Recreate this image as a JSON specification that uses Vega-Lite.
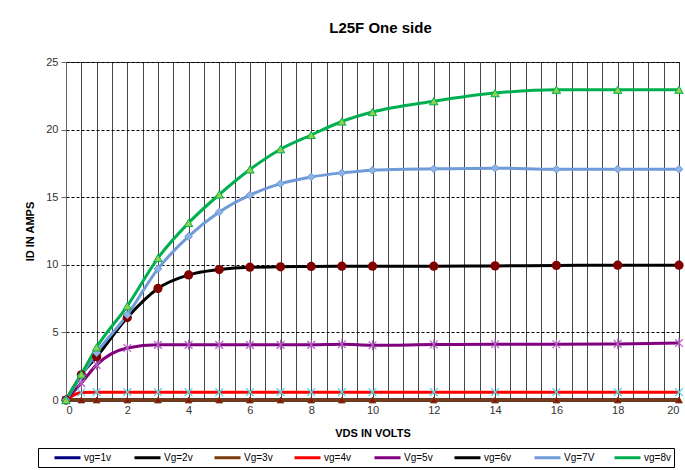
{
  "$schema": "https://vega.github.io/schema/vega-lite/v6.json",
  "width": 613,
  "height": 338,
  "autosize": "none",
  "padding": {"left": 66, "top": 62, "right": 6, "bottom": 70},
  "background": "white",
  "config": {
    "font": "Liberation Sans",
    "view": {"stroke": "#404040", "strokeWidth": 1}
  },
  "title": {"text": "L25F One side", "fontSize": 15, "fontWeight": "bold", "offset": 20, "anchor": "middle", "dx": 8, "color": "#000"},
  "data": {"values": [
    {"series": "vg=1v", "x": 0, "y": 0}, {"series": "vg=1v", "x": 0.5, "y": 0}, {"series": "vg=1v", "x": 1, "y": 0}, {"series": "vg=1v", "x": 2, "y": 0}, {"series": "vg=1v", "x": 3, "y": 0}, {"series": "vg=1v", "x": 4, "y": 0}, {"series": "vg=1v", "x": 5, "y": 0}, {"series": "vg=1v", "x": 6, "y": 0}, {"series": "vg=1v", "x": 7, "y": 0}, {"series": "vg=1v", "x": 8, "y": 0}, {"series": "vg=1v", "x": 9, "y": 0}, {"series": "vg=1v", "x": 10, "y": 0}, {"series": "vg=1v", "x": 12, "y": 0}, {"series": "vg=1v", "x": 14, "y": 0}, {"series": "vg=1v", "x": 16, "y": 0}, {"series": "vg=1v", "x": 18, "y": 0}, {"series": "vg=1v", "x": 20, "y": 0},
    {"series": "Vg=2v", "x": 0, "y": 0}, {"series": "Vg=2v", "x": 0.5, "y": 0}, {"series": "Vg=2v", "x": 1, "y": 0}, {"series": "Vg=2v", "x": 2, "y": 0}, {"series": "Vg=2v", "x": 3, "y": 0}, {"series": "Vg=2v", "x": 4, "y": 0}, {"series": "Vg=2v", "x": 5, "y": 0}, {"series": "Vg=2v", "x": 6, "y": 0}, {"series": "Vg=2v", "x": 7, "y": 0}, {"series": "Vg=2v", "x": 8, "y": 0}, {"series": "Vg=2v", "x": 9, "y": 0}, {"series": "Vg=2v", "x": 10, "y": 0}, {"series": "Vg=2v", "x": 12, "y": 0}, {"series": "Vg=2v", "x": 14, "y": 0}, {"series": "Vg=2v", "x": 16, "y": 0}, {"series": "Vg=2v", "x": 18, "y": 0}, {"series": "Vg=2v", "x": 20, "y": 0},
    {"series": "Vg=3v", "x": 0, "y": 0}, {"series": "Vg=3v", "x": 0.5, "y": 0}, {"series": "Vg=3v", "x": 1, "y": 0}, {"series": "Vg=3v", "x": 2, "y": 0}, {"series": "Vg=3v", "x": 3, "y": 0}, {"series": "Vg=3v", "x": 4, "y": 0}, {"series": "Vg=3v", "x": 5, "y": 0}, {"series": "Vg=3v", "x": 6, "y": 0}, {"series": "Vg=3v", "x": 7, "y": 0}, {"series": "Vg=3v", "x": 8, "y": 0}, {"series": "Vg=3v", "x": 9, "y": 0}, {"series": "Vg=3v", "x": 10, "y": 0}, {"series": "Vg=3v", "x": 12, "y": 0}, {"series": "Vg=3v", "x": 14, "y": 0}, {"series": "Vg=3v", "x": 16, "y": 0}, {"series": "Vg=3v", "x": 18, "y": 0}, {"series": "Vg=3v", "x": 20, "y": 0},
    {"series": "vg=4v", "x": 0, "y": 0}, {"series": "vg=4v", "x": 0.5, "y": 0.55}, {"series": "vg=4v", "x": 1, "y": 0.58}, {"series": "vg=4v", "x": 2, "y": 0.58}, {"series": "vg=4v", "x": 3, "y": 0.58}, {"series": "vg=4v", "x": 4, "y": 0.58}, {"series": "vg=4v", "x": 5, "y": 0.58}, {"series": "vg=4v", "x": 6, "y": 0.58}, {"series": "vg=4v", "x": 7, "y": 0.58}, {"series": "vg=4v", "x": 8, "y": 0.58}, {"series": "vg=4v", "x": 9, "y": 0.58}, {"series": "vg=4v", "x": 10, "y": 0.58}, {"series": "vg=4v", "x": 12, "y": 0.58}, {"series": "vg=4v", "x": 14, "y": 0.58}, {"series": "vg=4v", "x": 16, "y": 0.58}, {"series": "vg=4v", "x": 18, "y": 0.58}, {"series": "vg=4v", "x": 20, "y": 0.58},
    {"series": "Vg=5v", "x": 0, "y": 0}, {"series": "Vg=5v", "x": 0.5, "y": 1.25}, {"series": "Vg=5v", "x": 1, "y": 2.6}, {"series": "Vg=5v", "x": 2, "y": 3.85}, {"series": "Vg=5v", "x": 3, "y": 4.08}, {"series": "Vg=5v", "x": 4, "y": 4.08}, {"series": "Vg=5v", "x": 5, "y": 4.08}, {"series": "Vg=5v", "x": 6, "y": 4.08}, {"series": "Vg=5v", "x": 7, "y": 4.08}, {"series": "Vg=5v", "x": 8, "y": 4.08}, {"series": "Vg=5v", "x": 9, "y": 4.12}, {"series": "Vg=5v", "x": 10, "y": 4.05}, {"series": "Vg=5v", "x": 12, "y": 4.1}, {"series": "Vg=5v", "x": 14, "y": 4.12}, {"series": "Vg=5v", "x": 16, "y": 4.12}, {"series": "Vg=5v", "x": 18, "y": 4.15}, {"series": "Vg=5v", "x": 20, "y": 4.22},
    {"series": "vg=6v", "x": 0, "y": 0}, {"series": "vg=6v", "x": 0.5, "y": 1.86}, {"series": "vg=6v", "x": 1, "y": 3.2}, {"series": "vg=6v", "x": 2, "y": 6.1}, {"series": "vg=6v", "x": 3, "y": 8.25}, {"series": "vg=6v", "x": 4, "y": 9.25}, {"series": "vg=6v", "x": 5, "y": 9.65}, {"series": "vg=6v", "x": 6, "y": 9.82}, {"series": "vg=6v", "x": 7, "y": 9.85}, {"series": "vg=6v", "x": 8, "y": 9.88}, {"series": "vg=6v", "x": 9, "y": 9.9}, {"series": "vg=6v", "x": 10, "y": 9.9}, {"series": "vg=6v", "x": 12, "y": 9.9}, {"series": "vg=6v", "x": 14, "y": 9.92}, {"series": "vg=6v", "x": 16, "y": 9.95}, {"series": "vg=6v", "x": 18, "y": 9.97}, {"series": "vg=6v", "x": 20, "y": 9.97},
    {"series": "Vg=7V", "x": 0, "y": 0}, {"series": "Vg=7V", "x": 0.5, "y": 1.8}, {"series": "Vg=7V", "x": 1, "y": 3.5}, {"series": "Vg=7V", "x": 2, "y": 6.3}, {"series": "Vg=7V", "x": 3, "y": 9.7}, {"series": "Vg=7V", "x": 4, "y": 12.1}, {"series": "Vg=7V", "x": 5, "y": 13.9}, {"series": "Vg=7V", "x": 6, "y": 15.15}, {"series": "Vg=7V", "x": 7, "y": 16.0}, {"series": "Vg=7V", "x": 8, "y": 16.5}, {"series": "Vg=7V", "x": 9, "y": 16.8}, {"series": "Vg=7V", "x": 10, "y": 17.0}, {"series": "Vg=7V", "x": 12, "y": 17.1}, {"series": "Vg=7V", "x": 14, "y": 17.15}, {"series": "Vg=7V", "x": 16, "y": 17.07}, {"series": "Vg=7V", "x": 18, "y": 17.07}, {"series": "Vg=7V", "x": 20, "y": 17.07},
    {"series": "vg=8v", "x": 0, "y": 0}, {"series": "vg=8v", "x": 0.5, "y": 1.9}, {"series": "vg=8v", "x": 1, "y": 3.9}, {"series": "vg=8v", "x": 2, "y": 6.95}, {"series": "vg=8v", "x": 3, "y": 10.5}, {"series": "vg=8v", "x": 4, "y": 13.1}, {"series": "vg=8v", "x": 5, "y": 15.2}, {"series": "vg=8v", "x": 6, "y": 17.05}, {"series": "vg=8v", "x": 7, "y": 18.55}, {"series": "vg=8v", "x": 8, "y": 19.6}, {"series": "vg=8v", "x": 9, "y": 20.6}, {"series": "vg=8v", "x": 10, "y": 21.3}, {"series": "vg=8v", "x": 12, "y": 22.1}, {"series": "vg=8v", "x": 14, "y": 22.7}, {"series": "vg=8v", "x": 16, "y": 22.95}, {"series": "vg=8v", "x": 18, "y": 22.95}, {"series": "vg=8v", "x": 20, "y": 22.95}
  ]},
  "encoding": {
    "x": {"field": "x", "type": "quantitative",
      "scale": {"domain": [0, 20], "nice": false, "zero": false},
      "axis": {
        "title": "VDS IN VOLTS", "titleFontSize": 11, "titleFontWeight": "bold", "titleColor": "#000", "titlePadding": 12,
        "values": [0, 0.5, 1, 1.5, 2, 2.5, 3, 3.5, 4, 4.5, 5, 5.5, 6, 6.5, 7, 7.5, 8, 8.5, 9, 9.5, 10, 10.5, 11, 11.5, 12, 12.5, 13, 13.5, 14, 14.5, 15, 15.5, 16, 16.5, 17, 17.5, 18, 18.5, 19, 19.5, 20],
        "labelExpr": "datum.value % 2 === 0 ? format(datum.value, 'd') : ''",
        "labelOverlap": false, "labelFontSize": 11, "labelColor": "#333", "labelPadding": 4,
        "ticks": false, "domain": false,
        "grid": true, "gridColor": "#333", "gridWidth": 1, "gridOpacity": 0.9
      }},
    "y": {"field": "y", "type": "quantitative",
      "scale": {"domain": [0, 25], "nice": false},
      "axis": {
        "title": "ID IN AMPS", "titleFontSize": 11, "titleFontWeight": "bold", "titleColor": "#000", "titlePadding": 10,
        "values": [0, 5, 10, 15, 20, 25], "labelFontSize": 11, "labelColor": "#333", "labelPadding": 3,
        "tickSize": 5, "tickColor": "#666", "domainColor": "#666",
        "grid": true, "gridColor": "#000", "gridDash": [3, 2], "gridWidth": 1
      }}
  },
  "layer": [
    {
      "mark": {"type": "line", "strokeWidth": 3, "interpolate": "monotone"},
      "encoding": {
        "color": {"field": "series", "type": "nominal",
          "scale": {"domain": ["vg=1v", "Vg=2v", "Vg=3v", "vg=4v", "Vg=5v", "vg=6v", "Vg=7V", "vg=8v"],
                    "range": ["#000080", "#000000", "#7a3b0c", "#ff0000", "#800080", "#000000", "#6f9bd8", "#00b050"]},
          "legend": {"title": " ", "titleOrient": "left", "titlePadding": 12, "titleFontSize": 10,
            "orient": "none", "legendX": -28, "legendY": 386, "direction": "horizontal", "columns": 8,
            "gridAlign": "all", "columnPadding": 13, "symbolType": "M-1,0L4.2,0", "symbolSize": 100, "symbolStrokeWidth": 3,
            "labelFontSize": 10, "labelColor": "#000", "labelOffset": 18, "strokeColor": "#000", "padding": 3, "fillColor": "white"}},
        "detail": {"field": "series"}
      }
    },
    {
      "transform": [{"filter": "datum.series === 'Vg=3v'"}],
      "mark": {"type": "point", "shape": "triangle-up", "filled": true, "size": 45, "fill": "#8b1010", "stroke": "#7a3b0c", "strokeWidth": 1, "opacity": 1}
    },
    {
      "transform": [{"filter": "datum.series === 'vg=4v'"}],
      "mark": {"type": "point", "shape": "M-1,-1L1,1M-1,1L1,-1", "filled": false, "size": 60, "stroke": "#5cd6e6", "strokeWidth": 1.2, "opacity": 1}
    },
    {
      "transform": [{"filter": "datum.series === 'Vg=5v'"}],
      "mark": {"type": "point", "shape": "M-1,-1L1,1M-1,1L1,-1M0,-1.3L0,1.3", "filled": false, "size": 60, "stroke": "#b060c0", "strokeWidth": 1.2, "opacity": 1}
    },
    {
      "transform": [{"filter": "datum.series === 'vg=6v'"}],
      "mark": {"type": "point", "shape": "circle", "filled": true, "size": 85, "fill": "#800000", "opacity": 1}
    },
    {
      "transform": [{"filter": "datum.series === 'Vg=7V'"}],
      "mark": {"type": "point", "shape": "diamond", "filled": true, "size": 60, "fill": "#8fb4e3", "stroke": "#6f9bd8", "strokeWidth": 1, "opacity": 1}
    },
    {
      "transform": [{"filter": "datum.series === 'vg=8v'"}],
      "mark": {"type": "point", "shape": "triangle-up", "filled": true, "size": 70, "fill": "#92d050", "stroke": "#00b050", "strokeWidth": 1, "opacity": 1}
    }
  ]
}
